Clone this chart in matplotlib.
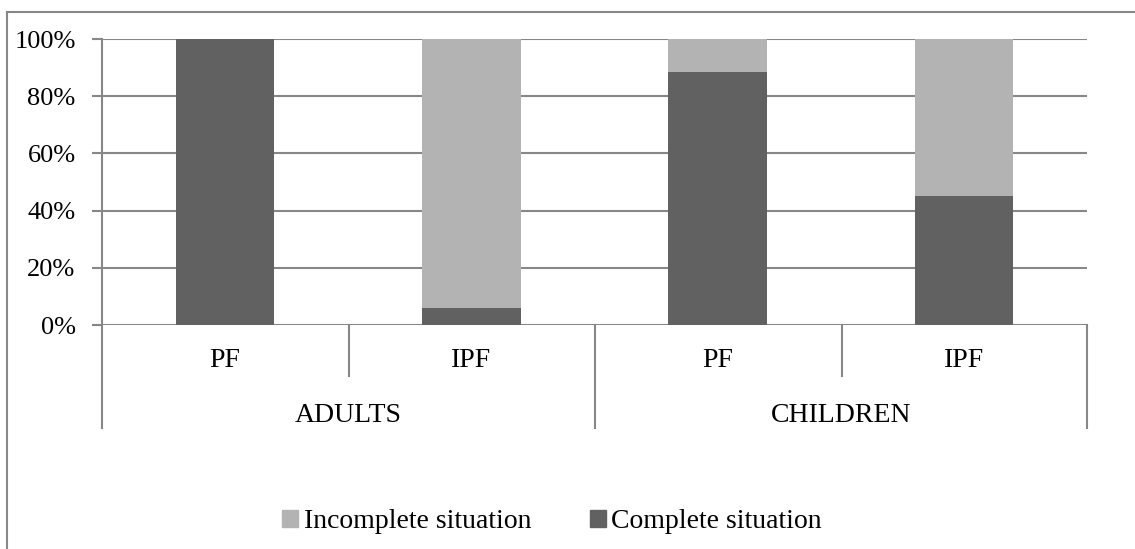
import numpy as np
import matplotlib
matplotlib.use("Agg")
import matplotlib.pyplot as plt
from matplotlib.lines import Line2D
from matplotlib.patches import Patch

# Share of each situation per group (percent)
groups = ["ADULTS", "CHILDREN"]
subgroups = ["PF", "IPF", "PF", "IPF"]
complete = [100, 6, 88.5, 45]
incomplete = [0, 94, 11.5, 55]
yticks = [0, 20, 40, 60, 80, 100]

DARK = "#616161"
LIGHT = "#b3b3b3"
LINE = "#878787"

plt.rcParams["font.family"] = ["Liberation Serif", "DejaVu Serif"]

W, H = 1135, 549
fig = plt.figure(figsize=(W / 100, H / 100), dpi=100)

def fx(px):
    return px / W

def fy(py):
    return 1 - py / H

# outer frame (top and left edges only are within view)
fig.add_artist(Line2D([fx(7), fx(1135)], [fy(12), fy(12)], color=LINE, lw=1.5))
fig.add_artist(Line2D([fx(7), fx(7)], [fy(12), 0], color=LINE, lw=1.5))

x0, x1, ytop, ybot = 102, 1087, 39, 325
ax = fig.add_axes([fx(x0), fy(ybot), fx(x1) - fx(x0), fy(ytop) - fy(ybot)])

x = np.arange(len(subgroups))
ax.bar(x, complete, width=0.4, color=DARK, zorder=3)
ax.bar(x, incomplete, width=0.4, bottom=complete, color=LIGHT, zorder=3)

ax.set_xlim(-0.5, len(subgroups) - 0.5)
ax.set_ylim(0, 100)
ax.set_yticks(yticks)
ax.set_yticklabels([f"{v}%" for v in yticks])
ax.yaxis.grid(True, color=LINE, lw=1.5, zorder=0)
ax.set_xticks([])
ax.tick_params(axis="y", length=7, width=1.5, color=LINE, labelsize=19, pad=12)

for side in ["top", "right", "bottom"]:
    ax.spines[side].set_visible(False)
ax.spines["left"].set_color(LINE)
ax.spines["left"].set_linewidth(1.5)

# category axis separators below the plot
def sep(xpx, ylow):
    fig.add_artist(Line2D([fx(xpx), fx(xpx)], [fy(ybot), fy(ylow)], color=LINE, lw=1.5))

sep(x0, 428)
sep(595, 428)
sep(x1, 428)
sep(348.5, 376)
sep(841.5, 376)

for i, name in enumerate(subgroups):
    ax.text(i, -12.5, name, ha="center", va="center", fontsize=20,
            transform=ax.transData, clip_on=False)
for j, name in enumerate(groups):
    ax.text(2 * j + 0.5, -31.5, name, ha="center", va="center", fontsize=20,
            transform=ax.transData, clip_on=False)

handles = [Patch(color=LIGHT, label="Incomplete situation"),
           Patch(color=DARK, label="Complete situation")]
fig.legend(handles=handles, loc="center", bbox_to_anchor=(fx(552), fy(522)),
           ncol=2, frameon=False, fontsize=20, handlelength=0.58, handleheight=0.58,
           handletextpad=0.2, columnspacing=2.1, borderpad=0)

fig.savefig("out.png", dpi=100)
